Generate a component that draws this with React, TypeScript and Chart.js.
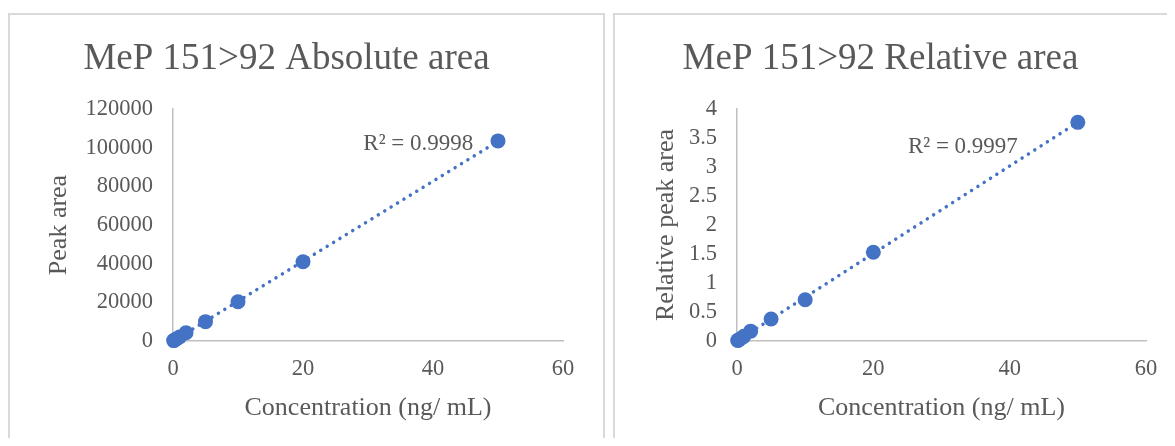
import React, { useEffect, useRef } from "react";
import { Chart, registerables } from "chart.js";

Chart.register(...registerables);

// ---------- data ----------
const concentrations = [0.1, 0.2, 0.5, 1, 2, 5, 10, 20, 50];
const absoluteArea = [200, 420, 1000, 2100, 4300, 10000, 20300, 41000, 103500];
const relativeArea = [0.008, 0.015, 0.04, 0.08, 0.17, 0.38, 0.71, 1.53, 3.77];

const xTicks = [0, 20, 40, 60];
const absoluteTicks = [0, 20000, 40000, 60000, 80000, 100000, 120000];
const relativeTicks = [0, 0.5, 1, 1.5, 2, 2.5, 3, 3.5, 4];

const absoluteTitle = "MeP 151>92 Absolute area";
const relativeTitle = "MeP 151>92 Relative area";
const xTitle = "Concentration (ng/ mL)";
const absoluteYTitle = "Peak area";
const relativeYTitle = "Relative peak area";
const absoluteR2 = "R² = 0.9998";
const relativeR2 = "R² = 0.9997";
// label anchors in data units (right edge, vertical middle)
const absoluteR2At = [46.2, 101900];
const relativeR2At = [41.2, 3.345];

// ---------- helpers ----------
const FONT = "'Liberation Serif', 'Times New Roman', serif";
const TEXT = "#595959";
const BLUE = "#4472C4";
const AXIS = "#bfbfbf";

function regression(xs: number[], ys: number[]) {
  const n = xs.length;
  const mx = xs.reduce((a, b) => a + b, 0) / n;
  const my = ys.reduce((a, b) => a + b, 0) / n;
  let sxy = 0;
  let sxx = 0;
  for (let i = 0; i < n; i++) {
    sxy += (xs[i] - mx) * (ys[i] - my);
    sxx += (xs[i] - mx) * (xs[i] - mx);
  }
  const slope = sxy / sxx;
  const icpt = my - slope * mx;
  const x0 = Math.min(...xs);
  const x1 = Math.max(...xs);
  return [
    { x: x0, y: icpt + slope * x0 },
    { x: x1, y: icpt + slope * x1 },
  ];
}

const r2Plugin = {
  id: "r2label",
  afterDatasetsDraw(chart: any, _args: any, opts: any) {
    const { ctx, scales } = chart;
    if (!opts || !opts.text) return;
    ctx.save();
    ctx.font = `23px ${FONT}`;
    ctx.fillStyle = TEXT;
    ctx.textAlign = "right";
    ctx.textBaseline = "middle";
    ctx.fillText(
      opts.text,
      scales.x.getPixelForValue(opts.at[0]),
      scales.y.getPixelForValue(opts.at[1])
    );
    ctx.restore();
  },
};

type Props = {
  width: number;
  height: number;
  title: string;
  yTitle: string;
  values: number[];
  yTicks: number[];
  r2: string;
  r2At: number[];
  yAxisWidth: number;
  padRight: number;
  yTitlePad: number;
};

function ScatterChart(p: Props) {
  const ref = useRef<HTMLCanvasElement | null>(null);
  useEffect(() => {
    if (!ref.current) return;
    const points = concentrations.map((x, i) => ({ x, y: p.values[i] }));
    const trend = regression(concentrations, p.values);
    const chart = new Chart(ref.current, {
      type: "scatter",
      data: {
        datasets: [
          {
            data: points,
            backgroundColor: BLUE,
            borderColor: BLUE,
            borderWidth: 0,
            pointRadius: 7.5,
            pointHoverRadius: 7.5,
            clip: false,
            order: 1,
          } as any,
          {
            data: trend,
            showLine: true,
            borderColor: BLUE,
            borderWidth: 3.5,
            borderDash: [0.01, 7.5],
            borderCapStyle: "round",
            pointRadius: 0,
            pointHoverRadius: 0,
            fill: false,
            clip: false,
            order: 2,
          } as any,
        ],
      },
      options: {
        animation: false,
        responsive: false,
        devicePixelRatio: 1,
        events: [],
        layout: { padding: { left: 0, right: p.padRight, top: 0, bottom: 14 } },
        plugins: {
          legend: { display: false },
          tooltip: { enabled: false },
          title: {
            display: true,
            text: p.title,
            color: TEXT,
            font: { family: FONT, size: 37, weight: "normal", lineHeight: 1.2 },
            padding: { top: 22, bottom: 27.6 },
          },
          r2label: { text: p.r2, at: p.r2At },
        } as any,
        scales: {
          x: {
            type: "linear",
            min: xTicks[0],
            max: xTicks[xTicks.length - 1],
            ticks: {
              stepSize: xTicks[1] - xTicks[0],
              autoSkip: false,
              color: TEXT,
              font: { family: FONT, size: 22.5 },
              padding: 15,
              callback: (v: any) => String(v),
            },
            grid: { display: false, drawTicks: false },
            border: { display: true, color: AXIS, width: 1.5 },
            title: {
              display: true,
              text: xTitle,
              color: TEXT,
              font: { family: FONT, size: 26, lineHeight: 1.2 },
              padding: { top: 0, bottom: 17.4 },
            },
            afterFit: (s: any) => {
              s.height = 100;
            },
          },
          y: {
            type: "linear",
            min: p.yTicks[0],
            max: p.yTicks[p.yTicks.length - 1],
            ticks: {
              stepSize: p.yTicks[1] - p.yTicks[0],
              autoSkip: false,
              color: TEXT,
              font: { family: FONT, size: 22.5 },
              padding: 20,
              callback: (v: any) => String(v),
            },
            grid: { display: false, drawTicks: false },
            border: { display: true, color: AXIS, width: 1.5 },
            title: {
              display: true,
              text: p.yTitle,
              color: TEXT,
              font: { family: FONT, size: 26, lineHeight: 1.2 },
              padding: { top: p.yTitlePad, bottom: 0 },
            },
            afterFit: (s: any) => {
              s.width = p.yAxisWidth;
            },
          },
        },
      } as any,
      plugins: [r2Plugin as any],
    });
    return () => chart.destroy();
  }, []);
  return (
    <canvas
      ref={ref}
      width={p.width}
      height={p.height}
      style={{ display: "block", width: p.width, height: p.height }}
    />
  );
}

export default function App() {
  const box: React.CSSProperties = {
    position: "absolute",
    top: 5,
    height: 450,
    border: "2px solid #d9d9d9",
    boxSizing: "border-box",
    background: "#fff",
  };
  return (
    <div style={{ position: "relative", width: 1167, height: 430, overflow: "hidden" }}>
      <div style={{ ...box, left: 0, width: 597 }}>
        <ScatterChart
          width={593}
          height={440}
          title={absoluteTitle}
          yTitle={absoluteYTitle}
          values={absoluteArea}
          yTicks={absoluteTicks}
          r2={absoluteR2}
          r2At={absoluteR2At}
          yAxisWidth={163}
          padRight={40}
          yTitlePad={33.5}
        />
      </div>
      <div style={{ ...box, left: 605, width: 577 }}>
        <ScatterChart
          width={573}
          height={440}
          title={relativeTitle}
          yTitle={relativeYTitle}
          values={relativeArea}
          yTicks={relativeTicks}
          r2={relativeR2}
          r2At={relativeR2At}
          yAxisWidth={122}
          padRight={42}
          yTitlePad={35.5}
        />
      </div>
    </div>
  );
}
